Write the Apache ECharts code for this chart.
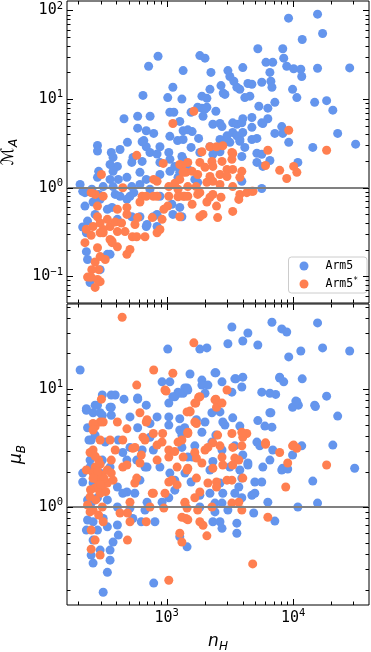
<!DOCTYPE html>
<html>
<head>
<meta charset="utf-8">
<script src="https://cdn.jsdelivr.net/npm/echarts@6/dist/echarts.min.js"></script>
<style>
  html, body { margin: 0; padding: 0; background: #fff; }
  #chart { width: 371px; height: 652px; }
</style>
</head>
<body>
<div id="chart"></div>
<script>
// values: [n_H, quantity]
const arm5MA = [
  [9200,82],[15600,91],[17100,55],[11800,47],[5260,37],[8280,37],[8430,29],[8900,23.5],[10100,22],[11500,21.7],
  [11700,18],[15600,22.3],[28000,22.5],[6100,26],[6900,26],[6550,20],[6670,15.9],[6800,13.6],[5650,15.5],[9900,12.9],
  [10700,10.4],[14800,9.2],[18400,9.6],[20600,7.5],[22500,4.1],[31200,3.1],[14300,2.85],[9230,3.25],[8130,4.9],[7170,9.2],
  [6310,7.9],[5360,8.3],[6310,6],[5760,5.3],[4720,6.2],[4550,10.8],[4720,14.7],[4000,22.7],[4390,15],[4150,10.4],
  [3790,12.9],[3590,13.6],[3400,15.9],[3160,18],[3050,21],[2690,14.2],[2800,11.7],[2890,11.3],[2240,20],[1830,31],
  [2010,29],[2200,12.9],[1900,10.8],[2080,10.2],[1350,21],[1120,13.6],[1020,10.4],[1320,10],[855,30.5],[720,23.5],
  [650,11],[1060,7.1],[1140,7.1],[460,6],[590,6.4],[740,6.4],[590,4.7],[790,4.1],[1900,7.9],[2080,8.1],
  [1940,6.4],[2450,7.3],[1560,7.1],[2640,5.3],[2320,5.2],[3330,5.4],[4000,6],[4720,4.8],[8280,4.1],[7170,4.1],
  [1060,3.8],[1270,5.6],[1350,4.4],[284,3.0],[284,2.6],[365,2.5],[428,2.7],[490,3.25],[660,3.4],[690,2.9],
  [885,2.9],[1590,4.3],[1790,3.6],[2200,2.9],[2640,3.5],[3330,4.2],[3790,3.5],[5170,3.6],[4150,2.85],[5170,2.45],
  [690,4.4],[1220,3.4],[640,3.3],[377,2.2],[542,2.2],[738,2.5],[840,2.4],[1040,2.5],[885,1.93],[1062,2.09],
  [1320,2.25],[640,1.98],[530,1.93],[408,1.74],[357,1.83],[377,1.53],[290,1.53],[284,1.31],[357,1.24],[415,1.24],
  [485,1.31],[615,1.49],[690,1.24],[885,1.41],[1062,1.53],[1160,1.74],[1230,1.31],[1470,1.61],[530,1.03],[615,1.09],
  [377,1.03],[315,1.03],[256,0.96],[207,1.09],[226,0.88],[290,0.84],[392,0.84],[513,0.80],[885,0.80],[738,0.96],
  [1760,8.1],[2010,7.7],[1470,4.5],[1350,3.5],[2740,4.9],[3590,5.2],[3930,5.4],[3000,3.85],[3590,3.85],[4000,4.2],
  [3790,3.35],[3160,3.25],[2780,3.25],[4720,3.5],[5650,5.4],[1560,2.85],[1830,2.5],[2320,2.38],[2640,2.55],[3930,2.25],
  [5650,2.38],[5170,1.93],[5760,1.74],[6550,2.03],[10900,1.93],[1350,2.09],[1270,1.49],[1670,1.24],[1760,1.15],[3930,1.18],
  [5650,0.98],[217,0.91],[226,0.62],[237,0.42],[217,0.36],[232,0.31],[272,0.50],[262,0.69],[298,0.74],[340,0.57],
  [370,0.60],[428,0.80],[408,0.44],[530,0.47],[340,0.177],[298,0.119],[248,0.085],[232,0.19],[690,0.365],[840,0.365],
  [1120,0.50],[1100,0.65],[1320,0.47],[785,0.47],[485,0.74],[550,0.88],[615,0.47],[700,0.385],[840,0.50],[1270,0.60],
  [357,0.177],[237,0.155]
];

const arm5sMA = [
  [1640,7.3],[1120,5.3],[580,2.32],[9230,4.45],[18400,2.65],[6310,2.65],[2200,2.9],[2480,2.9],[2780,2.98],[1900,2.55],
  [3330,2.43],[305,1.41],[940,1.88],[1320,1.78],[1420,1.49],[790,1.24],[840,1.18],[1160,1.12],[1040,1.03],[1230,0.96],
  [450,1.0],[272,0.84],[315,0.80],[640,0.80],[840,0.80],[1040,0.80],[1390,0.80],[3280,2.5],[3280,2.09],[2740,1.98],
  [2280,1.98],[1830,1.93],[1470,1.93],[1270,1.83],[2010,1.7],[2320,1.74],[3000,1.61],[3330,1.61],[3930,1.53],[6050,1.78],
  [7830,1.57],[10100,1.74],[10700,1.49],[8900,1.27],[1350,1.49],[1590,1.53],[1760,1.41],[2200,1.34],[2640,1.41],[3000,1.34],
  [3790,1.31],[2320,1.18],[2080,1.15],[1470,1.03],[1710,1.03],[2640,1.09],[3330,1.03],[1270,1.24],[1830,0.88],[2320,0.84],
  [4720,0.91],[3790,0.84],[1350,0.80],[253,0.88],[284,0.62],[284,0.47],[262,0.365],[232,0.34],[226,0.24],[253,0.29],
  [298,0.31],[284,0.21],[298,0.167],[272,0.145],[290,0.119],[248,0.098],[284,0.092],[272,0.075],[298,0.087],[237,0.098],
  [327,0.155],[370,0.25],[408,0.215],[485,0.177],[513,0.201],[469,0.32],[536,0.28],[408,0.32],[357,0.365],[392,0.41],
  [440,0.40],[485,0.50],[562,0.385],[590,0.46],[674,0.28],[580,0.28],[770,0.46],[840,0.31],[885,0.338],[920,0.44],
  [1020,0.62],[950,0.57],[1230,0.79],[1270,0.47],[1470,0.80],[1760,0.84],[1940,0.50],[1830,0.47],[2480,0.62],[2530,0.46],
  [3330,0.54],[3720,0.738],[4300,0.88],[4820,0.91],[785,0.80],[690,0.80],[615,0.69],[485,0.60],[408,0.57],[340,0.44],
  [315,0.338],[357,0.26],[1590,0.65],[2080,0.69],[2200,0.78],[2690,0.78],[256,0.119],[253,0.098],[298,0.40],[315,0.31],
  [370,0.24]
];

const arm5MuB = [
  [207,14.5],[310,8.9],[365,8.9],[392,8.9],[272,7.3],[232,6.6],[365,7.0],[590,8.4],[690,7.3],[920,11.5],
  [1060,11.5],[1230,9.4],[1450,10.2],[1040,7.6],[1160,8.6],[310,6.0],[365,6.0],[513,5.8],[840,5.8],[1040,5.8],
  [1270,5.6],[237,4.7],[590,4.7],[738,5.1],[1040,4.95],[1270,4.5],[253,3.7],[327,3.55],[415,3.7],[513,3.2],
  [738,3.9],[640,3.04],[450,2.9],[785,3.04],[248,2.5],[310,2.5],[485,2.5],[580,2.5],[674,2.18],[1470,2.65],
  [885,2.18],[1530,13.4],[1900,11.9],[1900,10.8],[2410,13.7],[2740,11.5],[3460,12.2],[4000,12.6],[3930,10.4],[3280,9.4],
  [2010,9.2],[1390,10.2],[1350,9.2],[5650,9.4],[6550,9.2],[7280,9.0],[7830,12.6],[8430,11.5],[11800,12.2],[18400,8.7],
  [10700,7.8],[9900,7.0],[11000,7.3],[14800,7.3],[22500,5.9],[6550,6.3],[5260,5.4],[5980,4.85],[6800,4.75],[3790,4.85],
  [3330,5.7],[2890,4.95],[2780,5.25],[2640,6.4],[2280,6.3],[2010,5.25],[1720,5.5],[1900,4.3],[2450,4.07],[1390,4.7],
  [1320,4.07],[5170,3.55],[5450,3.3],[6900,3.04],[11700,3.3],[20600,3.35],[30650,2.13],[9900,2.76],[6550,2.5],[8280,2.13],
  [4390,2.36],[4000,2.76],[3460,3.3],[2740,3.04],[2280,3.55],[1670,3.3],[1320,3.2],[1590,2.65],[2320,2.43],[3160,2.18],
  [217,1.63],[262,1.6],[237,1.15],[253,1.08],[237,0.776],[232,0.638],[262,0.75],[284,0.638],[315,0.80],[340,0.68],
  [262,0.525],[298,0.432],[253,0.392],[262,0.335],[357,0.432],[357,0.355],[340,0.28],[315,0.19],[377,0.505],[415,0.579],
  [408,0.704],[540,0.80],[630,0.75],[808,0.75],[790,0.227],[513,0.98],[674,0.943],[700,1.1],[920,1.1],[1040,1.2],
  [1160,1.39],[485,1.34],[560,1.31],[408,1.48],[450,1.31],[615,1.69],[700,2.18],[1060,1.94],[1160,1.69],[1395,1.94],
  [357,2.18],[298,1.94],[248,2.18],[284,1.2],[340,1.15],[408,1.0],[14300,1.66],[8130,2.06],[9060,2.1],[4980,1.63],
  [5650,1.63],[5760,2.18],[4390,2.27],[10900,1.0],[15600,1.08],[6310,1.1],[7170,0.76],[4720,1.26],[4980,1.31],[3930,1.2],
  [4880,0.89],[3590,0.73],[3590,0.60],[2740,0.66],[2320,0.75],[2640,0.75],[1450,0.46],[1270,0.56],[1560,1.63],[2200,2.06],
  [3790,2.06],[2640,1.6],[2200,1.31],[2780,1.31],[3460,1.31],[2410,1.08],[2740,1.08],[3050,0.943],[2410,0.91],[1830,1.26],
  [1830,1.0],[3720,1.48],[3930,1.76],[3280,33.5],[6800,36.8],[8130,32.3],[8900,30.4],[15600,36.3],[4390,29.8],[4000,25.5],
  [3050,24.2],[5260,23.6],[1830,21.8],[2080,22.3],[1020,21.8],[11500,21],[17100,22.3],[28000,21],[9230,18.7],[2450,13.7],
  [3530,12.2],[7830,12.4],[232,6.8],[284,7.3],[460,8.2],[590,8.2],[1120,8.6],[1270,9.2],[1470,9.8],[2120,10.8],
  [10500,7.9],[15000,7.1],[262,6.3],[298,6.3],[357,7.0],[272,4.07],[243,3.7],[217,1.94],[6670,6.3]
];

const arm5sMuB = [
  [445,40.5],[1640,24.6],[790,14.5],[580,10.8],[970,9.8],[1120,13.6],[3000,9.8],[305,8.2],[1790,8.5],[1670,7.6],
  [2410,8.1],[2480,7.0],[1530,6.5],[615,6.3],[1720,5.1],[298,5.25],[408,5.25],[272,4.8],[690,5.25],[4300,4.2],
  [4000,3.9],[6050,3.4],[9900,3.3],[10700,3.15],[7830,2.9],[9060,2.36],[18400,2.27],[562,3.2],[650,3.9],[785,4.2],
  [930,4.2],[990,9.6],[262,5.1],[315,5.25],[262,4.5],[700,5.5],[485,4.6],[920,3.55],[1450,6.4],[1470,4.2],
  [298,3.7],[357,3.7],[450,3.7],[540,3.15],[674,3.7],[840,3.35],[1040,3.04],[1160,2.95],[1230,3.55],[262,3.04],
  [290,2.5],[392,3.04],[365,2.5],[272,2.18],[630,2.76],[840,2.5],[1040,2.65],[1210,2.18],[1700,7.6],[1830,8.6],
  [2450,8.2],[2740,7.6],[1530,6.4],[1670,5.25],[1470,4.3],[2530,4.07],[3280,4.2],[3930,4.3],[1320,3.7],[2320,3.5],
  [2120,3.2],[2640,3.3],[3330,3.2],[3930,3.3],[6050,3.5],[10100,3.35],[1670,2.9],[1720,2.6],[2010,3.04],[2740,2.65],
  [3460,2.6],[3720,2.5],[1350,2.65],[2320,2.13],[1470,2.13],[232,2.06],[262,1.94],[284,1.69],[310,1.87],[340,2.06],
  [272,1.45],[310,1.48],[340,1.6],[298,1.31],[377,1.69],[365,1.94],[450,2.18],[485,2.27],[615,2.36],[580,1.76],
  [560,1.6],[785,1.31],[513,1.1],[248,1.22],[237,1.04],[262,0.943],[310,1.0],[248,0.91],[290,0.855],[315,0.75],
  [253,0.638],[272,0.525],[253,0.44],[298,0.392],[428,0.89],[490,0.89],[513,0.75],[490,0.525],[690,0.75],[770,1.31],
  [970,1.31],[1040,1.63],[1100,1.69],[1210,1.54],[1040,0.24],[1270,0.6],[1320,0.505],[1420,0.8],[1395,1.08],[950,0.98],
  [738,1.0],[8740,1.48],[6310,0.82],[4790,0.33],[3330,2.27],[2780,2.27],[1900,2.36],[1450,2.06],[1720,1.76],[2120,1.6],
  [2480,1.63],[3000,1.69],[3280,1.69],[4000,1.76],[2480,1.48],[1830,1.34],[1670,1.2],[1395,1.1],[1450,0.98],[1760,0.943],
  [2280,1.0],[3280,1.08],[3720,1.1],[3930,0.943],[1320,0.82],[1470,0.78],[1830,0.75],[1940,0.70],[2080,0.57],[248,2.9],
  [272,2.7],[298,2.3],[284,2.0],[262,1.75],[320,1.75],[300,1.55],[250,1.4],[330,1.35],[275,1.15]
];

// labelled (major) ticks
const xMajor = [1e3, 1e4];
const yMajorTop = [0.1, 1, 10, 100];
const yMajorBottom = [1, 10];

const BLUE = '#6495ED';
const ORANGE = '#FF7F50';
const MONO = '"DejaVu Sans Mono", monospace';
const SANS = '"DejaVu Sans", sans-serif';

const X_MIN = 163, X_MAX = 39800;
const Y_RANGE = [[0.05, 128], [0.148, 52.5]];
const GRIDS = [{ left: 67, top: 1, width: 302, height: 302 }, { left: 67, top: 304, width: 302, height: 301 }];

const LABEL_RICH = {
  b: { fontFamily: MONO, fontSize: 15, lineHeight: 20, color: '#000' },
  s: { fontFamily: MONO, fontSize: 10.5, lineHeight: 12, verticalAlign: 'top', color: '#000' },
};
const NAME_RICH = {
  i: { fontFamily: SANS, fontStyle: 'italic', fontSize: 17, lineHeight: 22, color: '#000' },
  m: { fontFamily: SANS, fontSize: 17, lineHeight: 22, color: '#000' },
  sub: { fontFamily: SANS, fontStyle: 'italic', fontSize: 12, lineHeight: 13, verticalAlign: 'bottom', color: '#000' },
};

function powLabel(majors) {
  return function (v) {
    for (const m of majors) {
      if (Math.abs(v - m) / m < 1e-6) {
        const e = Math.round(Math.log10(m));
        return '{b|10}{s|' + (e < 0 ? '\u2212' + (-e) : e) + '}';
      }
    }
    return '';
  };
}

// matplotlib-style log ticks: 1..9 x 10^n inside the range
function logTicks(lo, hi) {
  const out = [];
  for (let d = Math.floor(Math.log10(lo)); d <= Math.ceil(Math.log10(hi)); d++) {
    for (let k = 1; k <= 9; k++) {
      const v = k * Math.pow(10, d);
      if (v > lo * 1.0001 && v < hi * 0.9999) out.push({ v, major: k === 1 });
    }
  }
  return out;
}

function seg(x1, y1, x2, y2) {
  return { type: 'line', shape: { x1, y1, x2, y2 }, style: { stroke: '#000', lineWidth: 1 } };
}

// inward ticks on all four sides, placed through the axes' own scales
function tickSeries(gi, dir) {
  const xMid = Math.sqrt(X_MIN * X_MAX);
  const yMid = Math.sqrt(Y_RANGE[gi][0] * Y_RANGE[gi][1]);
  const list = dir === 'x' ? logTicks(X_MIN, X_MAX) : logTicks(Y_RANGE[gi][0], Y_RANGE[gi][1]);
  return {
    type: 'custom',
    name: 'ticks',
    xAxisIndex: gi,
    yAxisIndex: gi,
    silent: true,
    clip: false,
    z: 10,
    data: list.map(t => dir === 'x' ? [t.v, yMid, t.major ? 1 : 0] : [xMid, t.v, t.major ? 1 : 0]),
    renderItem: function (params, api) {
      const cs = params.coordSys;
      const len = api.value(2) ? 6 : 3.5;
      const p = api.coord([api.value(0), api.value(1)]);
      if (dir === 'x') {
        const x = Math.round(p[0]) + 0.5;
        return { type: 'group', children: [seg(x, cs.y, x, cs.y + len), seg(x, cs.y + cs.height - len, x, cs.y + cs.height)] };
      }
      const y = Math.round(p[1]) + 0.5;
      return { type: 'group', children: [seg(cs.x, y, cs.x + len, y), seg(cs.x + cs.width - len, y, cs.x + cs.width, y)] };
    },
  };
}

const bare = { axisTick: { show: false }, axisLine: { show: false }, splitLine: { show: false } };

const chart = echarts.init(document.getElementById('chart'));

const refLine = {
  silent: true,
  symbol: 'none',
  label: { show: false },
  lineStyle: { color: '#808080', width: 2, type: 'solid' },
  data: [{ yAxis: 1 }],
};

const dot = color => ({ color: color, opacity: 1 });

chart.setOption({
  animation: false,
  backgroundColor: '#fff',
  // keep the grids exactly where they are put (v6 would otherwise shrink them to fit labels)
  grid: GRIDS.map(g => Object.assign({
    show: true, borderColor: '#000', borderWidth: 1, backgroundColor: '#fff',
    containLabel: false, outerBoundsMode: 'none',
  }, g)),
  legend: {
    data: ['Arm5', 'Arm5*'],
    orient: 'vertical',
    right: 4,
    top: 257,
    icon: 'circle',
    itemWidth: 9,
    itemHeight: 9,
    itemGap: 5,
    padding: [3, 9, 3, 11],
    borderColor: '#cccccc',
    borderWidth: 1,
    borderRadius: 3,
    backgroundColor: 'rgba(255,255,255,0.8)',
    itemStyle: { opacity: 1 },
    formatter: n => n === 'Arm5*' ? '{t|Arm5}{s|*}' : '{t|Arm5}',
    textStyle: {
      rich: {
        t: { fontFamily: MONO, fontSize: 11.5, lineHeight: 14, color: '#000', padding: [0, 0, 0, 12] },
        s: { fontFamily: MONO, fontSize: 8, lineHeight: 9, verticalAlign: 'top', color: '#000' },
      },
    },
  },
  xAxis: [
    Object.assign({ gridIndex: 0, type: 'log', min: X_MIN, max: X_MAX, axisLabel: { show: false } }, bare),
    Object.assign({
      gridIndex: 1, type: 'log', min: X_MIN, max: X_MAX,
      axisLabel: { formatter: powLabel(xMajor), rich: LABEL_RICH, margin: 3, showMinLabel: false, showMaxLabel: false },
      name: '{i|n}{sub|H}', nameLocation: 'middle', nameGap: 26, nameTextStyle: { rich: NAME_RICH },
    }, bare),
  ],
  yAxis: [
    Object.assign({
      gridIndex: 0, type: 'log', min: Y_RANGE[0][0], max: Y_RANGE[0][1],
      axisLabel: { formatter: powLabel(yMajorTop), rich: LABEL_RICH, margin: 4, showMinLabel: false, showMaxLabel: false },
      name: '{m|\u2133}{sub|A}', nameLocation: 'middle', nameGap: 47, nameTextStyle: { rich: NAME_RICH },
    }, bare),
    Object.assign({
      gridIndex: 1, type: 'log', min: Y_RANGE[1][0], max: Y_RANGE[1][1],
      axisLabel: { formatter: powLabel(yMajorBottom), rich: LABEL_RICH, margin: 4, showMinLabel: false, showMaxLabel: false },
      name: '{i|\u03bc}{sub|B}', nameLocation: 'middle', nameGap: 39, nameTextStyle: { rich: NAME_RICH },
    }, bare),
  ],
  series: [
    { name: 'Arm5', type: 'scatter', xAxisIndex: 0, yAxisIndex: 0, data: arm5MA, symbolSize: 9,
      itemStyle: dot(BLUE), markLine: refLine },
    { name: 'Arm5*', type: 'scatter', xAxisIndex: 0, yAxisIndex: 0, data: arm5sMA, symbolSize: 9,
      itemStyle: dot(ORANGE) },
    { name: 'Arm5', type: 'scatter', xAxisIndex: 1, yAxisIndex: 1, data: arm5MuB, symbolSize: 9,
      itemStyle: dot(BLUE), markLine: refLine },
    { name: 'Arm5*', type: 'scatter', xAxisIndex: 1, yAxisIndex: 1, data: arm5sMuB, symbolSize: 9,
      itemStyle: dot(ORANGE) },
    tickSeries(0, 'x'), tickSeries(0, 'y'), tickSeries(1, 'x'), tickSeries(1, 'y'),
  ],
});
</script>
</body>
</html>
